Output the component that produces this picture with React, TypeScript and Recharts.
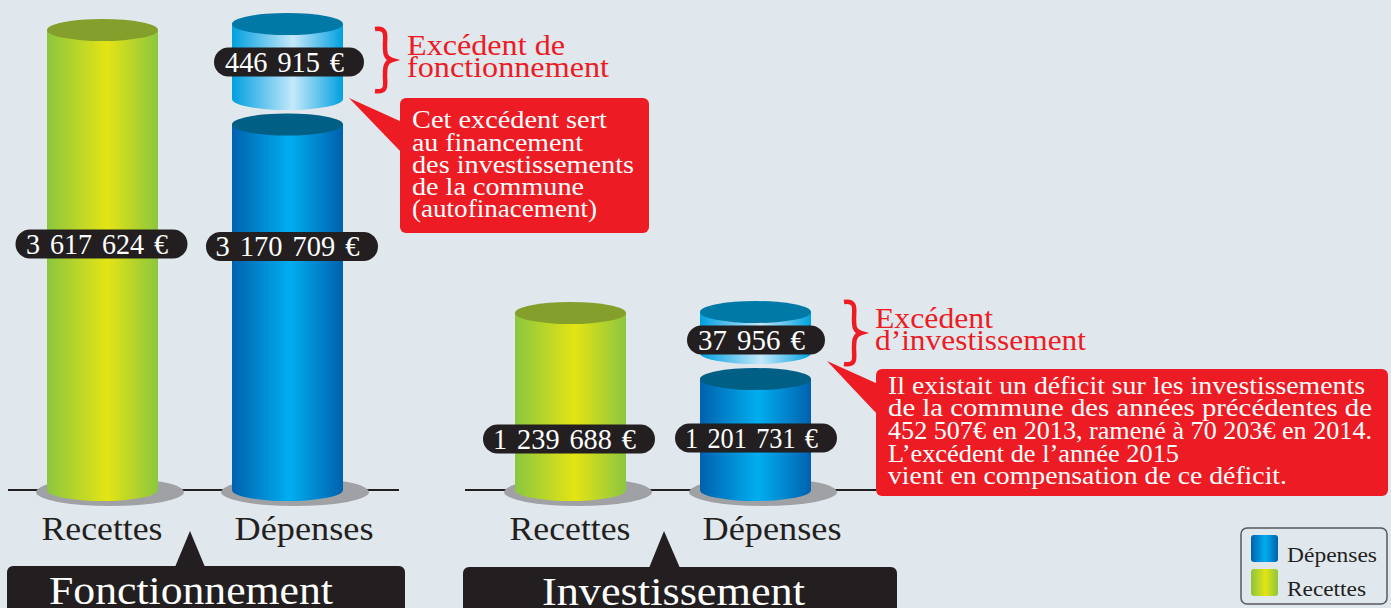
import { BarChart, Bar, XAxis, YAxis, LabelList } from "recharts";

const categories = ["Recettes", "Dépenses"];

const fonctionnementRecettes = [3617624, null];
const fonctionnementDepenses = [null, 3170709];
const fonctionnementExcedent = [null, 446915];

const investissementRecettes = [1239688, null];
const investissementDepenses = [null, 1201731];
const investissementExcedent = [null, 37956];

const calloutFonctionnement = [
  { text: "Cet excédent sert", y: 128, w: 195 },
  { text: "au financement", y: 151, w: 171 },
  { text: "des investissements", y: 173, w: 222 },
  { text: "de la commune", y: 195, w: 172 },
  { text: "(autofinacement)", y: 217, w: 185 },
];
const calloutInvestissement = [
  { text: "Il existait un déficit sur les investissements", y: 394, w: 477 },
  { text: "de la commune des années précédentes de", y: 416, w: 484 },
  { text: "452 507€ en 2013, ramené à 70 203€ en 2014.", y: 439, w: 484 },
  { text: "L’excédent de l’année 2015", y: 462, w: 291 },
  { text: "vient en compensation de ce déficit.", y: 484, w: 399 },
];

const FONT = "'Liberation Serif', serif";
const WIDTH = 1391;
const HEIGHT = 608;
const BASE_Y = 490;
const INK = "#231f20";
const RED = "#ed1c24";

const rows = (a: (number | null)[], b: (number | null)[], c: (number | null)[]) =>
  categories.map((name, i) => ({ name, recettes: a[i], depenses: b[i], excedent: c[i] }));

// the poster is not drawn to one scale, each cylinder gets its own hidden axis
const axisDomain = (value: number, top: number, bottom: number) => {
  const k = value / (bottom - top);
  return [-(BASE_Y - bottom) * k, bottom * k];
};

const euros = (v: number) => `${String(v).replace(/\B(?=(\d{3})+$)/g, " ")} €`;

const T = ({ x, y, size, fill, w, children, anchor, wordSpacing }: any) => (
  <text
    x={x}
    y={y}
    fontSize={size}
    fill={fill}
    fontFamily={FONT}
    textAnchor={anchor || "start"}
    textLength={w}
    lengthAdjust={w ? "spacingAndGlyphs" : undefined}
    style={wordSpacing ? { wordSpacing } : undefined}
  >
    {children}
  </text>
);

const Cylinder = (props: any) => {
  const { x, y, width, height, kind, shadow } = props;
  if (!Number.isFinite(height) || height <= 0) return null;
  const rx = width / 2;
  const ry = 11;
  const bottom = y + height;
  const body = `M${x},${y} L${x},${bottom} A${rx},${ry} 0 0 0 ${x + width},${bottom} L${x + width},${y} Z`;
  return (
    <g>
      {shadow && <ellipse cx={x + rx + 7.5} cy={bottom + 2} rx={74} ry={14} fill="#a0a1a5" />}
      <path d={body} fill={`url(#${kind.grad})`} />
      <ellipse cx={x + rx} cy={y} rx={rx} ry={ry} fill={kind.top} />
    </g>
  );
};

const GREEN = { grad: "gradGreen", top: "#849f2b" };
const BLUE = { grad: "gradBlue", top: "#005f85" };
const PALE = { grad: "gradPale", top: "#0079a6" };

const Pill = ({ x, width, value, pill }: any) => {
  if (value == null) return null;
  const cx = x + width / 2 + pill.dx;
  return (
    <g>
      <rect x={cx - pill.w / 2} y={pill.cy - 14.5} width={pill.w} height={29} rx={14.5} fill={INK} />
      <T x={cx - 4.5} y={pill.cy + 9.5} size={29} fill="#fff" anchor="middle" w={pill.text} wordSpacing={3}>
        {euros(value)}
      </T>
    </g>
  );
};

const CategoryTick = ({ x, payload }: any) => {
  const dep = payload.value === "Dépenses";
  return (
    <T x={x + (dep ? 16.5 : -0.5)} y={BASE_Y + 50} size={34} fill={INK} anchor="middle" w={dep ? 139 : 121}>
      {payload.value}
    </T>
  );
};

const Section = ({ data, left, right, pad, axes, pills }: any) => (
  <div style={{ position: "absolute", left: 0, top: 0 }}>
    <BarChart
      width={WIDTH}
      height={HEIGHT}
      data={data}
      barSize={111}
      barGap={-111}
      margin={{ top: 0, bottom: HEIGHT - BASE_Y - 60, left, right: WIDTH - right }}
    >
      <XAxis
        dataKey="name"
        height={60}
        padding={pad}
        tickLine={false}
        axisLine={{ stroke: INK, strokeWidth: 2 }}
        tick={<CategoryTick />}
        interval={0}
        zIndex={100}
      />
      <YAxis yAxisId="r" hide domain={axes.r} />
      <YAxis yAxisId="d" hide domain={axes.d} />
      <YAxis yAxisId="e" hide domain={axes.e} />
      <Bar
        dataKey="recettes"
        yAxisId="r"
        isAnimationActive={false}
        shape={(p: any) => <Cylinder {...p} kind={GREEN} shadow />}
      >
        <LabelList dataKey="recettes" content={(p: any) => <Pill {...p} pill={pills.r} />} />
      </Bar>
      <Bar
        dataKey="depenses"
        yAxisId="d"
        isAnimationActive={false}
        shape={(p: any) => <Cylinder {...p} kind={BLUE} shadow />}
      >
        <LabelList dataKey="depenses" content={(p: any) => <Pill {...p} pill={pills.d} />} />
      </Bar>
      <Bar
        dataKey="excedent"
        yAxisId="e"
        isAnimationActive={false}
        shape={(p: any) => <Cylinder {...p} kind={PALE} />}
      >
        <LabelList dataKey="excedent" content={(p: any) => <Pill {...p} pill={pills.e} />} />
      </Bar>
    </BarChart>
  </div>
);

const Gradient = ({ id, edge, mid, at }: any) => (
  <linearGradient id={id} x1="0" y1="0" x2="1" y2="0">
    <stop offset="0" stopColor={edge} />
    <stop offset={at} stopColor={mid} />
    <stop offset="1" stopColor={edge} />
  </linearGradient>
);

const Overlay = () => (
  <svg
    width={WIDTH}
    height={HEIGHT}
    style={{ position: "absolute", left: 0, top: 0, pointerEvents: "none" }}
  >
    <defs>
      <Gradient id="gradGreen" edge="#8cc63f" mid="#e4e414" at={0.54} />
      <Gradient id="gradBlue" edge="#0061ae" mid="#00aeef" at={0.52} />
      <Gradient id="gradPale" edge="#00a0df" mid="#c5e8fb" at={0.55} />
    </defs>

    {/* braces and headings */}
    <path
      d="M375,29 C388,27 385,37 385,45 C385,53 385,58 392,60 C385,62 385,68 385,76 C385,84 388,93 375,91"
      fill="none"
      stroke={RED}
      strokeWidth={4.5}
    />
    <T x={407} y={55} size={29} fill={RED} w={158}>Excédent de</T>
    <T x={407} y={77} size={29} fill={RED} w={202}>fonctionnement</T>
    <path
      d="M844,302 C857,300 854,310 854,318 C854,326 854,331 861,333 C854,335 854,341 854,349 C854,357 857,366 844,364"
      fill="none"
      stroke={RED}
      strokeWidth={4.5}
    />
    <T x={875} y={328} size={29} fill={RED} w={118}>Excédent</T>
    <T x={875} y={350} size={29} fill={RED} w={211}>d’investissement</T>

    {/* callouts */}
    <path d="M349,98 L402,122 L402,153 Z" fill={RED} />
    <rect x={400} y={98} width={249} height={135} rx={6} fill={RED} />
    {calloutFonctionnement.map((l) => (
      <T key={l.text} x={412} y={l.y} size={25} fill="#fff" w={l.w}>{l.text}</T>
    ))}
    <path d="M827,361 L878,384 L878,415 Z" fill={RED} />
    <rect x={876} y={369} width={512} height={127} rx={6} fill={RED} />
    {calloutInvestissement.map((l) => (
      <T key={l.text} x={888} y={l.y} size={25} fill="#fff" w={l.w}>{l.text}</T>
    ))}

    {/* section banners */}
    <path d="M175,567 L190,531 L205,567 Z" fill={INK} />
    <rect x={7} y={566} width={398} height={60} rx={6} fill={INK} />
    <T x={49} y={604} size={41} fill="#fff" w={284}>Fonctionnement</T>
    <path d="M649,568 L664,531 L680,568 Z" fill={INK} />
    <rect x={463} y={567} width={434} height={60} rx={6} fill={INK} />
    <T x={542} y={605} size={41} fill="#fff" w={263}>Investissement</T>

    {/* legend */}
    <rect x={1241} y={528} width={146} height={76} rx={6} fill="none" stroke="#58595b" strokeWidth={1.5} />
    <rect x={1251} y={535} width={27} height={27} rx={3} fill="url(#gradBlue)" />
    <rect x={1251} y={569} width={27} height={27} rx={3} fill="url(#gradGreen)" />
    <T x={1287} y={562} size={20} fill={INK} w={90}>Dépenses</T>
    <T x={1287} y={596} size={20} fill={INK} w={79}>Recettes</T>
  </svg>
);

export default function App() {
  return (
    <div
      style={{
        position: "absolute",
        left: 0,
        top: 0,
        width: WIDTH,
        height: HEIGHT,
        overflow: "hidden",
        background: "#e0e7ed",
      }}
    >
      <Section
        data={rows(fonctionnementRecettes, fonctionnementDepenses, fonctionnementExcedent)}
        left={8}
        right={399}
        pad={{ left: 2, right: 19 }}
        axes={{
          r: axisDomain(3617624, 30, BASE_Y),
          d: axisDomain(3170709, 124.5, BASE_Y),
          e: axisDomain(446915, 24, 99),
        }}
        pills={{
          r: { dx: -1, cy: 244, w: 172, text: 142 },
          d: { dx: 4.5, cy: 246.5, w: 172, text: 144 },
          e: { dx: 1.5, cy: 62, w: 150, text: 119 },
        }}
      />
      <Section
        data={rows(investissementRecettes, investissementDepenses, investissementExcedent)}
        left={465}
        right={876}
        pad={{ left: 13, right: 28 }}
        axes={{
          r: axisDomain(1239688, 313, BASE_Y),
          d: axisDomain(1201731, 379, BASE_Y),
          e: axisDomain(37956, 312, 353),
        }}
        pills={{
          r: { dx: -1.5, cy: 439, w: 172, text: 143 },
          d: { dx: 0.5, cy: 438, w: 162, text: 133 },
          e: { dx: 0.5, cy: 340, w: 138, text: 107 },
        }}
      />
      <Overlay />
    </div>
  );
}
